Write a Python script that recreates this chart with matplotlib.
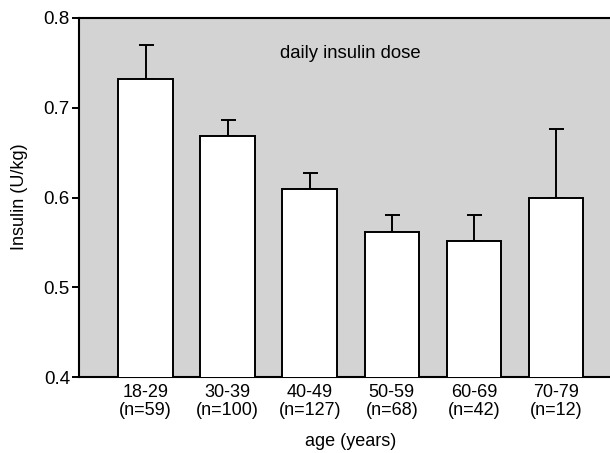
import matplotlib
matplotlib.use("Agg")
import matplotlib.pyplot as plt
import numpy as np

plt.rcParams['font.family'] = ['Liberation Sans', 'DejaVu Sans']

age_groups = ["18-29", "30-39", "40-49", "50-59", "60-69", "70-79"]
n_counts = [59, 100, 127, 68, 42, 12]
insulin_mean = [0.732, 0.668, 0.610, 0.562, 0.552, 0.600]
insulin_err = [0.038, 0.018, 0.017, 0.019, 0.029, 0.076]

tick_labels = [f"{a}\n(n={n})" for a, n in zip(age_groups, n_counts)]

W, H = 610, 453
fig = plt.figure(figsize=(W / 100, H / 100), dpi=100)
ax = fig.add_axes([79 / W, 1 - 377 / H, (W - 79) / W, (377 - 18) / H])
ax.set_facecolor("#d3d3d3")

x = np.arange(len(age_groups))
ax.bar(x, insulin_mean, width=0.665, color="white", edgecolor="black",
       linewidth=1.4, zorder=3)
ax.errorbar(x, insulin_mean, yerr=[np.zeros(len(x)), insulin_err], fmt="none",
            ecolor="black", elinewidth=1.4, capsize=5.4, capthick=1.4, zorder=2)

ax.set_xlim(-0.813, 5.66)
ax.set_ylim(0.4, 0.8)
ax.set_yticks([0.4, 0.5, 0.6, 0.7, 0.8])
ax.set_yticklabels(["0.4", "0.5", "0.6", "0.7", "0.8"], fontsize=13.5)
ax.set_xticks(x)
ax.set_xticklabels(tick_labels, fontsize=13, linespacing=1.1)
ax.tick_params(axis="x", length=0, pad=5)
ax.tick_params(axis="y", length=5, width=1.4, pad=1.5)

for side in ["left", "bottom", "top"]:
    ax.spines[side].set_linewidth(1.5)
ax.spines["right"].set_visible(False)

ax.text(2.50, 0.761, "daily insulin dose", ha="center", va="center", fontsize=13.3)
fig.text(20 / W, 1 - 197 / H, "Insulin (U/kg)", rotation=90,
         ha="center", va="center", fontsize=13)
fig.text(350.5 / W, 1 - 441.7 / H, "age (years)", ha="center", va="center",
         fontsize=13)

fig.savefig("out.png", dpi=100)
